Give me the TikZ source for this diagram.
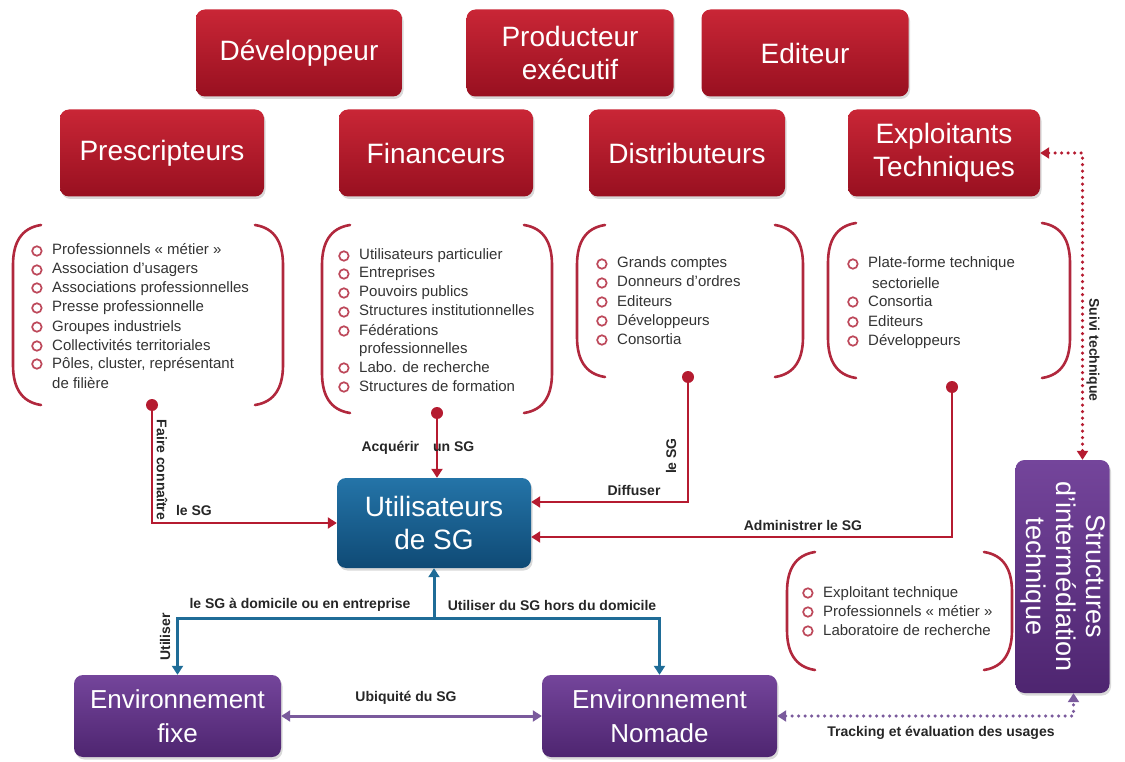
\documentclass[tikz,border=0pt]{standalone}
\usepackage{fontspec}
\setmainfont{Liberation Sans}
\usetikzlibrary{arrows.meta,shadows}

\definecolor{redtop}{HTML}{C92636}
\definecolor{reddark}{HTML}{981020}
\definecolor{bluetop}{HTML}{2474A8}
\definecolor{bluedark}{HTML}{0F4A75}
\definecolor{purtop}{HTML}{74459B}
\definecolor{purdark}{HTML}{4E2570}
\definecolor{brk}{HTML}{B1283D}
\definecolor{linered}{HTML}{B51B30}
\definecolor{lineblue}{HTML}{1F6C97}
\definecolor{linepur}{HTML}{7A5A9C}

\tikzset{
  box/.style={rounded corners=9pt, text=white, align=center, inner sep=2pt,
    minimum height=87pt, font=\fontsize{28}{33}\selectfont,
    drop shadow={opacity=.3, shadow xshift=1.5pt, shadow yshift=-2.5pt}},
  actor/.style={box, top color=redtop, bottom color=reddark},
  usager/.style={box, top color=bluetop, bottom color=bluedark, minimum height=90pt},
  milieu/.style={box, top color=purtop, bottom color=purdark, minimum height=82pt,
    font=\fontsize{26}{34}\selectfont},
  brack/.style={draw=brk, line width=2.6pt, line cap=round},
  item/.style={anchor=base west, inner sep=0pt, text=black!80,
    font=\fontsize{15}{18}\selectfont, text height=11pt, text depth=3pt},
  bitem/.style={item,
    label={[circle, draw=brk!85, fill=white, line width=1.7pt, minimum size=9.5pt,
      inner sep=0pt, text height=0pt, text depth=0pt, xshift=-9.5pt]left:{}}},
  lbl/.style={inner sep=1pt, text=black!85, font=\bfseries\fontsize{14}{16}\selectfont},
  dot/.style={circle, fill=linered, inner sep=0pt, minimum size=12pt},
  redline/.style={draw=linered, line width=2.6pt, ->},
  blueline/.style={draw=lineblue, line width=3pt},
  purline/.style={draw=linepur, line width=3pt, <->},
  reddot/.style={draw=linered, line width=3.5pt, line cap=round,
    dash pattern=on 0pt off 6.5pt, <->},
  purdot/.style={draw=linepur, line width=3.5pt, line cap=round,
    dash pattern=on 0pt off 6.5pt, <->}
}

% parentheses round a list
\newcommand{\listbrackets}[4]{%
  \draw[brack] (#1+28,#2) .. controls (#1+8,#2+3) and (#1,#2+18) .. (#1,#2+40)
    -- (#1,#4-40) .. controls (#1,#4-18) and (#1+8,#4-3) .. (#1+28,#4);
  \draw[brack] (#3-28,#2) .. controls (#3-8,#2+3) and (#3,#2+18) .. (#3,#2+40)
    -- (#3,#4-40) .. controls (#3,#4-18) and (#3-8,#4-3) .. (#3-28,#4);
}

\begin{document}
\begin{tikzpicture}[x=1pt, y=-1pt, >={Triangle[width=11pt,length=9pt]}]
\useasboundingbox (0,0) rectangle (1125,762);

% acteurs
\node[actor, minimum width=206pt] (dev) at (299,53) {Développeur};
\node[actor, minimum width=207pt] (prod) at (570,53) {Producteur\\exécutif};
\node[actor, minimum width=207pt] (edit) at (805,53) {Editeur};
\node[actor, minimum width=204pt] (presc) at (162,153) {Prescripteurs};
\node[actor, minimum width=194pt] (fin) at (436,153) {Financeurs};
\node[actor, minimum width=196pt] (distr) at (687,153) {Distributeurs};
\node[actor, minimum width=192pt] (expl) at (944,153) {Exploitants\\Techniques};

\node[usager, minimum width=194pt] (util) at (434,523) {Utilisateurs\\de SG};
\node[milieu, minimum width=207pt] (fixe) at (177.5,716) {Environnement\\fixe};
\node[milieu, minimum width=235pt] (nomade) at (659.5,716) {Environnement\\Nomade};
\node[milieu, minimum width=91pt, minimum height=233pt,
  font=\fontsize{27}{30}\selectfont] (struct) at (1062.5,576.5)
  {\rotatebox{-90}{\begin{tabular}{@{}c@{}}Structures\\d'intermédiation\\technique\end{tabular}}};

% listes
\listbrackets{13}{225}{283}{405}
\foreach \y/\t [count=\i] in {255/Professionnels « métier », 274/Association d'usagers,
  292/Associations professionnelles, 312/Presse professionnelle, 331/Groupes industriels,
  350/Collectivités territoriales, 368/{Pôles, cluster, représentant}}
  \node[bitem] (presc-\i) at (52,\y) {\t};
\node[item] (presc-8) at (52,388) {de filière};

\listbrackets{322}{225}{552}{413}
\foreach \y/\t [count=\i] in {260/Utilisateurs particulier, 278/Entreprises,
  297/Pouvoirs publics, 316/Structures institutionnelles, 335/Fédérations,
  372/Labo. de recherche, 391/Structures de formation}
  \node[bitem] (fin-\i) at (359,\y) {\t};
\node[item] (fin-8) at (359,353) {professionnelles};

\listbrackets{577}{225}{803}{377}
\foreach \y/\t [count=\i] in {268/Grands comptes, 287/Donneurs d'ordres, 306/Editeurs,
  325/Développeurs, 344/Consortia}
  \node[bitem] (distr-\i) at (617,\y) {\t};

\listbrackets{828}{223}{1070}{378}
\foreach \y/\t [count=\i] in {268/Plate-forme technique, 306/Consortia, 326/Editeurs,
  345/Développeurs}
  \node[bitem] (expl-\i) at (868,\y) {\t};
\node[item] (expl-5) at (872,288) {sectorielle};

\listbrackets{787}{552}{1012}{670}
\foreach \y/\t [count=\i] in {597/Exploitant technique, 616/Professionnels « métier »,
  635/Laboratoire de recherche}
  \node[bitem] (struct-\i) at (823,\y) {\t};

% liens vers les utilisateurs
\node[dot] (d1) at (152,405) {};
\node[dot] (d2) at (437,413) {};
\node[dot] (d3) at (688,377) {};
\node[dot] (d4) at (952,387) {};
\draw[redline] (d1) |- (util.west);
\draw[redline] (d2) -- (d2 |- util.north);
\draw[redline] (d3) |- ([yshift=21pt]util.east);
\draw[redline] (d4) |- ([yshift=-14pt]util.east);

\coordinate (bj) at (434,618);
\draw[blueline, ->] (bj) -- (util.south);
\draw[blueline, <->] (fixe.north) |- (bj) -| (nomade.north);
\draw[purline] (fixe) -- (nomade);
\draw[reddot] (expl.east) -| ([xshift=20pt]struct.north);
\draw[purdot] (nomade.east) -| ([xshift=11pt]struct.south);

% etiquettes
\node[lbl, rotate=-90] (l-faire) at (162,470) {Faire connaître};
\node[lbl] (l-sg1) at (194,510) {le SG};
\node[lbl] (l-acq) at (418,448) {Acquérir\hspace{14pt}un SG};
\node[lbl, rotate=90] (l-sg2) at (671,456) {le SG};
\node[lbl] (l-diff) at (634,490) {Diffuser};
\node[lbl] (l-admin) at (803,525) {Administrer le SG};
\node[lbl] (l-dom) at (300,605) {le SG à domicile ou en entreprise};
\node[lbl] (l-hors) at (552,605) {Utiliser du SG hors du domicile};
\node[lbl, rotate=90] (l-util) at (165,637) {Utiliser};
\node[lbl] (l-ubiq) at (406,698) {Ubiquité du SG};
\node[lbl] (l-track) at (941,733) {Tracking et évaluation des usages};
\node[lbl, rotate=-90] (l-suivi) at (1093,350) {Suivi technique};
\end{tikzpicture}
\end{document}
